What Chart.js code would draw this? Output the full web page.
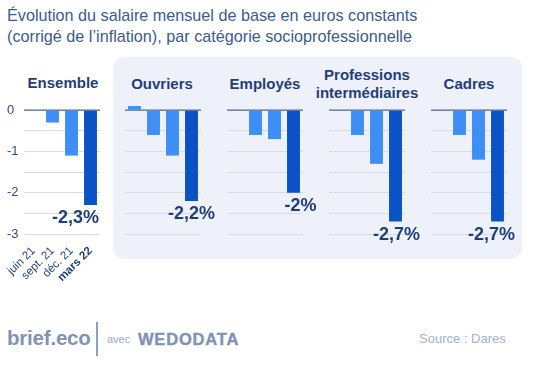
<!DOCTYPE html>
<html><head><meta charset="utf-8">
<script src="https://cdn.jsdelivr.net/npm/chart.js@4.4.1/dist/chart.umd.min.js"></script>
<style>
html,body{margin:0;padding:0;background:#fff;width:541px;height:375px;overflow:hidden;font-family:"Liberation Sans",Arial,sans-serif;}
#root{position:relative;width:541px;height:375px;}
.title{position:absolute;left:7px;top:5px;font-size:16.2px;line-height:21px;color:#3c5b8e;}
.panel{position:absolute;left:113px;top:57px;width:409px;height:202px;background:#eef1f9;border-radius:11px;}
.ptitle{position:absolute;font-weight:bold;font-size:15px;line-height:18px;color:#1f3f78;text-align:center;width:120px;}
.c{position:absolute;}
.foot{position:absolute;color:#7f93b6;}
</style></head>
<body><div id="root">
<div class="title">Évolution du salaire mensuel de base en euros constants<br>(corrigé de l’inflation), par catégorie socioprofessionnelle</div>
<div class="panel"></div>
<div class="ptitle" style="left:3px;top:74px">Ensemble</div>
<div class="ptitle" style="left:102px;top:75px">Ouvriers</div>
<div class="ptitle" style="left:205px;top:75px">Employés</div>
<div class="ptitle" style="left:307px;top:66px">Professions<br>intermédiaires</div>
<div class="ptitle" style="left:409px;top:75px">Cadres</div>
<canvas class="c" id="c0"></canvas>
<canvas class="c" id="c1"></canvas>
<canvas class="c" id="c2"></canvas>
<canvas class="c" id="c3"></canvas>
<canvas class="c" id="c4"></canvas>
<div class="foot" style="left:7px;top:326px;font-size:20.5px;font-weight:bold;letter-spacing:-0.2px;">brief.eco</div>
<div class="foot" style="left:96px;top:322px;width:2px;height:34px;background:#8fa1c0;"></div>
<div class="foot" style="left:107px;top:333px;font-size:11px;color:#9aaaca;">avec</div>
<div class="foot" style="left:138px;top:330px;font-size:16.5px;font-weight:900;letter-spacing:0.8px;-webkit-text-stroke:0.4px #7f93b6;">WEDODATA</div>
<div class="foot" style="left:419px;top:331px;font-size:13px;color:#a3b2ce;">Source : Dares</div>
</div>
<script>
const categories = ['juin 21', 'sept. 21', 'déc. 21', 'mars 22'];
const groupNames = ['Ensemble', 'Ouvriers', 'Employés', 'Professions intermédiaires', 'Cadres'];
const ensemble  = [0, -0.3, -1.1, -2.3];
const ouvriers  = [0.1, -0.6, -1.1, -2.2];
const employes  = [0, -0.6, -0.7, -2.0];
const profInter = [0, -0.6, -1.3, -2.7];
const cadres    = [0, -0.6, -1.2, -2.7];
const yTickValues = [0, -0.5, -1, -1.5, -2, -2.5, -3];

const series = [ensemble, ouvriers, employes, profInter, cadres];
const LIGHT = '#3d8ff6', DARK = '#0a52c6';
const NAVY = '#1f3f78';
const plotW = 76, xAxisH = 55, padTop = 4, padRight = 24;
const yMax = 0.15, yMin = -3, unitPx = 41.33;
const plotH = (yMax - yMin) * unitPx;
const plotLefts = [24, 124.5, 226.5, 329, 431];
const labelDx = [-15, 0, 7, 1, -6];

function fmt(v){
  let s = v.toFixed(1).replace('.', ',');
  if (s.endsWith(',0')) s = s.slice(0, -2);
  return s + '%';
}

const lastLabel = {
  id: 'lastLabel',
  afterDatasetsDraw(chart, args, opts){
    const meta = chart.getDatasetMeta(0);
    const n = meta.data.length - 1;
    const el = meta.data[n];
    const v = chart.data.datasets[0].data[n];
    const ctx = chart.ctx;
    ctx.save();
    ctx.font = 'bold 18px "Liberation Sans", Arial, sans-serif';
    ctx.fillStyle = NAVY;
    ctx.textAlign = 'center';
    ctx.textBaseline = 'middle';
    ctx.fillText(fmt(v), el.x + opts.dx, el.y + 13);
    ctx.restore();
  }
};

const zeroLine = {
  id: 'zeroLine',
  beforeDatasetsDraw(chart){
    const y = chart.scales.y.getPixelForValue(0);
    const a = chart.chartArea, ctx = chart.ctx;
    ctx.save();
    ctx.strokeStyle = '#56698a';
    ctx.lineWidth = 1.2;
    ctx.beginPath(); ctx.moveTo(a.left, y); ctx.lineTo(a.right, y); ctx.stroke();
    ctx.restore();
  }
};

function noPad(s){ s.paddingTop = 0; s.paddingBottom = 0; s.paddingLeft = 0; s.paddingRight = 0; }

series.forEach((data, i) => {
  const first = i === 0;
  const padLeft = first ? 7 : 0;
  const yW = first ? 17 : 0;
  const cv = document.getElementById('c' + i);
  const w = padLeft + yW + plotW + padRight, h = padTop + plotH + xAxisH;
  cv.style.left = (plotLefts[i] - yW - padLeft) + 'px';
  cv.style.top = (110 - yMax * unitPx - padTop) + 'px';
  cv.style.width = w + 'px'; cv.style.height = h + 'px';
  cv.width = w; cv.height = h;
  new Chart(cv, {
    type: 'bar',
    data: {
      labels: categories,
      datasets: [{
        label: groupNames[i],
        data: data,
        backgroundColor: data.map((v, k) => k === data.length - 1 ? DARK : LIGHT),
        borderWidth: 0,
        categoryPercentage: 1,
        barPercentage: 0.68
      }]
    },
    options: {
      responsive: false,
      animation: false,
      devicePixelRatio: 1,
      layout: { padding: { top: padTop, right: padRight, left: padLeft, bottom: 0 } },
      plugins: { legend: { display: false }, tooltip: { enabled: false }, lastLabel: { dx: labelDx[i] } },
      scales: {
        x: {
          grid: { display: false },
          border: { display: false },
          afterFit(s){ s.height = xAxisH; noPad(s); },
          ticks: {
            display: first,
            maxRotation: 45, minRotation: 45,
            autoSkip: false,
            padding: 2,
            color: NAVY,
            font: (c) => ({ family: '"Liberation Sans", Arial, sans-serif', size: 11.5, weight: c.index === 3 ? 'bold' : 'normal' })
          }
        },
        y: {
          min: yMin, max: yMax,
          afterBuildTicks(s){ s.ticks = yTickValues.map(v => ({ value: v })); },
          afterFit(s){ s.width = yW; noPad(s); },
          border: { display: false },
          grid: { color: '#d8dbe2', lineWidth: 1, drawTicks: false },
          ticks: {
            display: first,
            crossAlign: 'far',
            padding: 0,
            color: '#2f4e84',
            font: { family: '"Liberation Sans", Arial, sans-serif', size: 13 },
            callback: (v) => Number.isInteger(v) ? String(v) : ''
          }
        }
      }
    },
    plugins: [zeroLine, lastLabel]
  });
});
</script>
</body></html>
